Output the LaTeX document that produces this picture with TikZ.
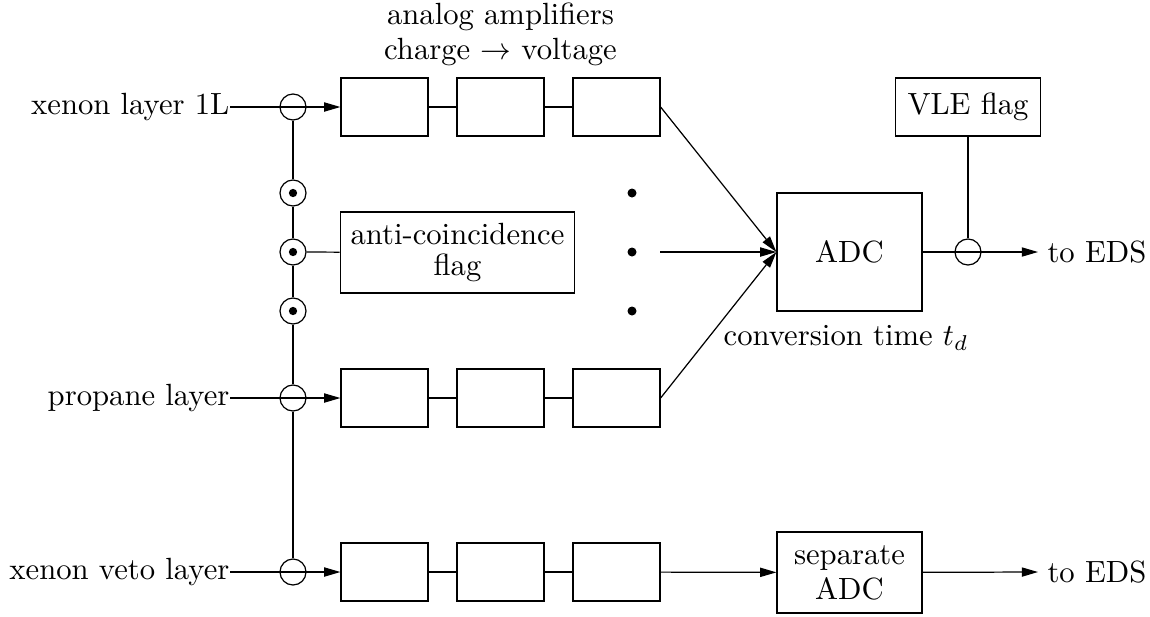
\documentclass[tikz,border=0pt]{standalone}
\usetikzlibrary{arrows.meta}
\begin{document}
\begin{tikzpicture}[x=0.326pt,y=-0.326pt,
  amp/.style={draw, minimum width=87*0.326pt, minimum height=58*0.326pt, inner sep=0pt},
  ring/.style={draw, circle, minimum size=26*0.326pt, inner sep=0pt},
  lbl/.style={inner sep=0pt, anchor=east},
  outlbl/.style={inner sep=2.9pt, anchor=west},
  arr/.style={-{Triangle[length=5.3pt,width=3pt]}},
  bigdot/.style={circle, fill, inner sep=0pt, minimum size=9*0.326pt},
  two/.style={align=center, font={\fontsize{10pt}{#1}\selectfont}}
]
\useasboundingbox (0,0) rectangle (1150,616);

% top caption
\node[two=11.4pt] (cap) at (500.5,34) {analog amplifiers\\charge $\rightarrow$ voltage};

% input labels
\node[lbl] (in1) at (230,107) {xenon layer 1L};
\node[lbl] (in2) at (230,398) {propane layer};
\node[lbl] (in3) at (230,572) {xenon veto layer};

% rings on the bus
\node[ring] (c1) at (293,107) {};
\node[ring] (c2) at (293,193) {};
\node[ring] (c3) at (293,252) {};
\node[ring] (c4) at (293,311) {};
\node[ring] (c5) at (293,398) {};
\node[ring] (c6) at (293,572) {};
\foreach \n in {c2,c3,c4} \fill (\n) circle (1.35pt);

% amplifier boxes
\node[amp] (a11) at (384.5,107) {};
\node[amp] (a12) at (500.5,107) {};
\node[amp] (a13) at (616.5,107) {};
\node[amp] (a21) at (384.5,398) {};
\node[amp] (a22) at (500.5,398) {};
\node[amp] (a23) at (616.5,398) {};
\node[amp] (a31) at (384.5,572) {};
\node[amp] (a32) at (500.5,572) {};
\node[amp] (a33) at (616.5,572) {};

% anti-coincidence flag
\node[draw, two=10pt, minimum width=231*0.326pt, minimum height=81*0.326pt] (anti) at (457.5,252.5) {anti-coincidence\\flag};

% dots
\node[bigdot] (d1) at (632,193) {};
\node[bigdot] (d2) at (632,252) {};
\node[bigdot] (d3) at (632,311) {};
\coordinate (m) at (660,252);

% ADC and VLE
\node[draw, minimum width=145*0.326pt, minimum height=118*0.326pt] (adc) at (849.5,252) {ADC};
\node[draw, minimum width=145*0.326pt, minimum height=58*0.326pt] (vle) at (968,107) {VLE flag};
\node[ring] (c7) at (968,252) {};
\node (conv) at (846,338) {conversion time $t_d$};
\node[outlbl] (eds1) at (1038,252) {to EDS};

% separate ADC
\node[draw, two=11.4pt, minimum width=145*0.326pt, minimum height=81*0.326pt] (sep) at (849.5,572.5) {separate\\ADC};
\node[outlbl] (eds2) at (1038,572) {to EDS};

% connections
\draw[arr] (in1.east) -- (a11.west);
\draw[arr] (in2.east) -- (a21.west);
\draw[arr] (in3.east) -- (a31.west);
\draw (c1) -- (c2);
\draw (c2) -- (c3);
\draw (c3) -- (c4);
\draw (c4) -- (c5);
\draw (c5) -- (c6);
\draw (c3) -- (anti);
\draw (a11) -- (a12);
\draw (a12) -- (a13);
\draw (a21) -- (a22);
\draw (a22) -- (a23);
\draw (a31) -- (a32);
\draw (a32) -- (a33);
\draw[arr] (a13.east) -- (adc.west);
\draw[arr] (m) -- (adc.west);
\draw[arr] (a23.east) -- (adc.west);
\draw[arr] (adc.east) -- (eds1.west);
\draw (vle) -- (c7);
\draw[arr] (a33) -- (sep);
\draw[arr] (sep) -- (eds2.west);
\end{tikzpicture}
\end{document}
